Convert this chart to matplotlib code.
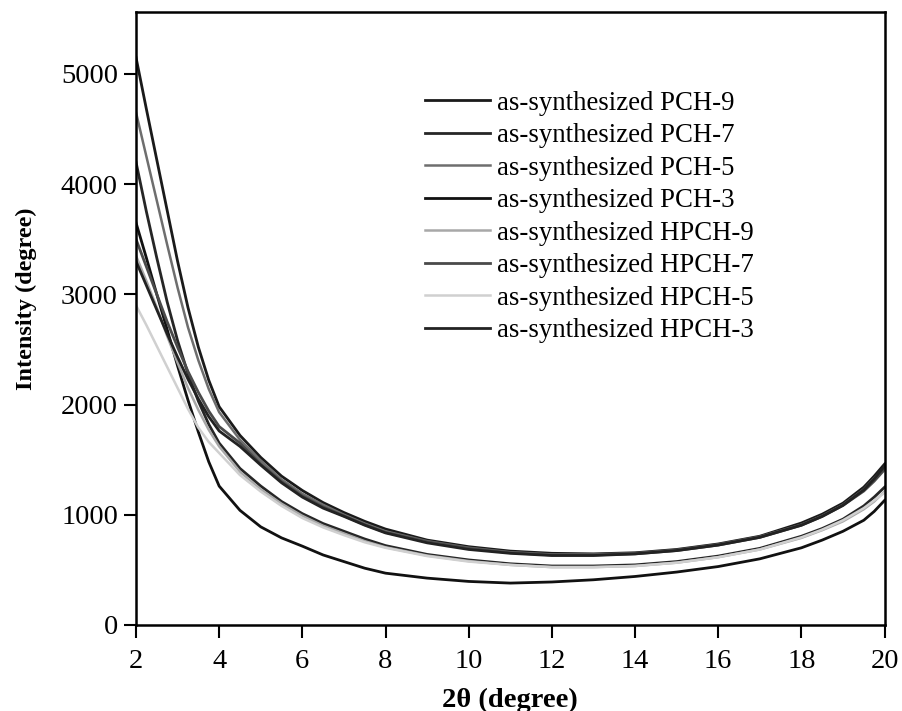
import matplotlib
matplotlib.use("Agg")
import matplotlib.pyplot as plt

plt.rcParams['font.family'] = ['Liberation Serif', 'DejaVu Serif']

two_theta = [2.0, 2.25, 2.5, 2.75, 3.0, 3.25, 3.5, 3.75, 4.0, 4.5, 5.0, 5.5, 6.0, 6.5,
             7.0, 7.5, 8.0, 9.0, 10.0, 11.0, 12.0, 13.0, 14.0, 15.0, 16.0, 17.0,
             18.0, 18.5, 19.0, 19.5, 19.75, 20.0]

pch9 = [5150, 4680, 4220, 3760, 3300, 2880, 2520, 2220, 1980, 1720, 1520, 1350, 1220, 1110,
        1020, 940, 870, 770, 710, 670, 650, 645, 655, 685, 735, 805,
        925, 1005, 1105, 1250, 1350, 1460]
pch7 = [4200, 3750, 3330, 2930, 2580, 2280, 2030, 1820, 1650, 1420, 1260, 1120, 1010, 920,
        850, 780, 720, 640, 590, 555, 535, 535, 545, 575, 625, 695,
        805, 875, 960, 1080, 1160, 1250]
pch5 = [4650, 4250, 3850, 3450, 3060, 2700, 2400, 2140, 1930, 1680, 1490, 1320, 1190, 1090,
        1000, 920, 850, 760, 700, 660, 640, 640, 650, 680, 730, 800,
        910, 990, 1090, 1230, 1330, 1430]
pch3 = [3650, 3330, 3000, 2680, 2350, 2040, 1750, 1480, 1260, 1040, 890, 790, 715, 635,
        575, 515, 470, 425, 395, 380, 390, 410, 440, 480, 530, 600,
        700, 770, 850, 950, 1030, 1130]
hpch9 = [3350, 3120, 2880, 2620, 2380, 2150, 1950, 1770, 1620, 1390, 1230, 1100, 990, 900,
         830, 760, 705, 630, 580, 545, 525, 525, 535, 565, 615, 685,
         790, 860, 940, 1050, 1120, 1210]
hpch7 = [3500, 3250, 3000, 2750, 2520, 2300, 2110, 1940, 1800, 1650, 1460, 1300, 1170, 1070,
         990, 910, 840, 755, 695, 655, 635, 635, 645, 675, 725, 795,
         905, 985, 1085, 1215, 1305, 1410]
hpch5 = [2900, 2720, 2530, 2340, 2150, 1960, 1790, 1660, 1560, 1360, 1210, 1080, 970, 885,
         815, 750, 700, 625, 575, 545, 525, 525, 535, 565, 615, 685,
         795, 865, 950, 1060, 1130, 1200]
hpch3 = [3300, 3080, 2860, 2640, 2430, 2230, 2050, 1890, 1760, 1620, 1450, 1290, 1160, 1060,
         985, 905, 835, 745, 685, 650, 630, 630, 645, 675, 725, 795,
         905, 985, 1085, 1225, 1325, 1440]

labels = ["as-synthesized PCH-9", "as-synthesized PCH-7", "as-synthesized PCH-5",
          "as-synthesized PCH-3", "as-synthesized HPCH-9", "as-synthesized HPCH-7",
          "as-synthesized HPCH-5", "as-synthesized HPCH-3"]
series = [pch9, pch7, pch5, pch3, hpch9, hpch7, hpch5, hpch3]
colors = ["#1a1a1a", "#262626", "#6e6e6e", "#111111", "#a8a8a8", "#4a4a4a", "#d0d0d0", "#222222"]
widths = [2.0, 2.0, 1.8, 2.0, 1.8, 2.0, 1.8, 2.0]

fig = plt.figure(figsize=(9.03, 7.11), dpi=100)
ax = fig.add_axes([0.1506, 0.121, 0.829, 0.862])

for y, lab, c, w in zip(series, labels, colors, widths):
    ax.plot(two_theta, y, color=c, lw=w, label=lab)

ax.set_xlim(2, 20)
ax.set_ylim(0, 5560)
ax.set_xticks(range(2, 21, 2))
ax.set_yticks(range(0, 5001, 1000))
ax.tick_params(direction='out', length=9, width=1.5, labelsize=20.5, pad=4)
ax.tick_params(axis='x', pad=8)
for s in ax.spines.values():
    s.set_linewidth(1.8)

ax.set_xlabel("2θ (degree)", fontsize=20.5, fontweight='bold', labelpad=10)
ax.set_ylabel("Intensity (degree)", fontsize=17.5, fontweight='bold')
ax.yaxis.set_label_coords(-0.132, 0.533)

leg = ax.legend(loc='upper left', bbox_to_anchor=(0.3716, 0.889), frameon=False,
                fontsize=19.3, handlelength=2.43, handletextpad=0.26, labelspacing=0.28,
                borderaxespad=0)

fig.savefig("out.png", dpi=100)
